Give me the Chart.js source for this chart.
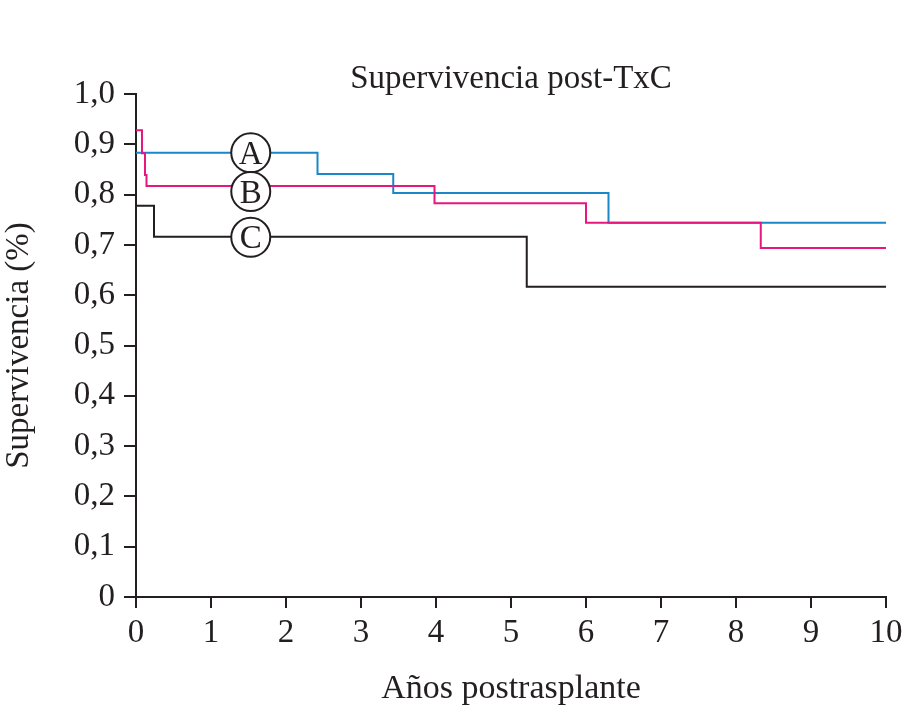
<!DOCTYPE html>
<html>
<head>
<meta charset="utf-8">
<script src="https://cdn.jsdelivr.net/npm/chart.js@4.4.1/dist/chart.umd.min.js"></script>
<style>
  html, body { margin: 0; padding: 0; background: #fff; }
  canvas { display: block; }
</style>
</head>
<body>
<canvas id="km" width="903" height="705"></canvas>
<script>
// Kaplan-Meier curves (years, survival fraction)
const timesA = [0, 2.42, 3.43, 6.3, 10];
const survA  = [0.883, 0.841, 0.803, 0.744, 0.744];

const timesB = [0, 0.08, 0.12, 0.14, 3.98, 6.0, 8.33, 10];
const survB  = [0.928, 0.882, 0.839, 0.817, 0.783, 0.744, 0.694, 0.694];

const timesC = [0, 0.24, 5.21, 10];
const survC  = [0.778, 0.716, 0.617, 0.617];

const xTicks = ['0', '1', '2', '3', '4', '5', '6', '7', '8', '9', '10'];
const yTicks = ['0', '0,1', '0,2', '0,3', '0,4', '0,5', '0,6', '0,7', '0,8', '0,9', '1,0'];

// circled group labels
const groupNames = ['A', 'B', 'C'];
const groupLabelX = 1.53;
const groupLabelY = [0.883, 0.806, 0.715];

const INK = '#231f20';
const SERIF = '"Liberation Serif", "Times New Roman", serif';

const toPoints = (xs, ys) => xs.map((x, i) => ({ x: x, y: ys[i] }));

// draws the circled letters over the lines
const circleLabels = {
  id: 'circleLabels',
  afterDatasetsDraw(chart) {
    const { ctx, scales } = chart;
    ctx.save();
    groupNames.forEach((name, i) => {
      const cx = scales.x.getPixelForValue(groupLabelX);
      const cy = scales.y.getPixelForValue(groupLabelY[i]);
      ctx.beginPath();
      ctx.arc(cx, cy, 19.5, 0, Math.PI * 2);
      ctx.fillStyle = '#fff';
      ctx.fill();
      ctx.lineWidth = 2;
      ctx.strokeStyle = INK;
      ctx.stroke();
      ctx.fillStyle = INK;
      ctx.font = '33px ' + SERIF;
      ctx.textAlign = 'center';
      ctx.textBaseline = 'alphabetic';
      ctx.fillText(name, cx, cy + 11);
    });
    ctx.restore();
  }
};

const lineStyle = (color) => ({
  borderColor: color,
  backgroundColor: color,
  borderWidth: 2,
  stepped: 'before',
  pointRadius: 0,
  fill: false
});

new Chart(document.getElementById('km'), {
  type: 'line',
  data: {
    datasets: [
      Object.assign({ label: 'A', data: toPoints(timesA, survA), order: 1 }, lineStyle('#1b87c9')),
      Object.assign({ label: 'B', data: toPoints(timesB, survB), order: 0 }, lineStyle('#e6177e')),
      Object.assign({ label: 'C', data: toPoints(timesC, survC), order: 2 }, lineStyle(INK))
    ]
  },
  options: {
    responsive: false,
    animation: false,
    layout: { padding: { top: 64, right: 17, left: 0, bottom: 0 } },
    plugins: {
      legend: { display: false },
      tooltip: { enabled: false },
      title: {
        display: true,
        fullSize: false,
        text: 'Supervivencia post-TxC',
        color: INK,
        font: { family: SERIF, size: 33, weight: 'normal', lineHeight: '30px' },
        padding: { top: 0, bottom: 0 }
      }
    },
    scales: {
      x: {
        type: 'linear',
        min: 0,
        max: 10,
        afterFit: (s) => { s.height = 108; s.paddingLeft = 0; s.paddingRight = 0; },
        afterBuildTicks: (s) => { s.ticks = xTicks.map((t, i) => ({ value: i })); },
        border: { display: true, color: INK, width: 2 },
        grid: { drawOnChartArea: false, drawTicks: true, tickLength: 11, color: INK, lineWidth: 2 },
        ticks: {
          color: INK,
          padding: 6,
          maxRotation: 0,
          font: { family: SERIF, size: 33 },
          callback: (v, i) => xTicks[i]
        },
        title: {
          display: true,
          text: 'Años postrasplante',
          color: INK,
          font: { family: SERIF, size: 34, lineHeight: '32px' },
          padding: 0
        }
      },
      y: {
        type: 'linear',
        min: 0,
        max: 1,
        afterFit: (s) => { s.width = 136; s.paddingTop = 0; s.paddingBottom = 0; },
        afterBuildTicks: (s) => { s.ticks = yTicks.map((t, i) => ({ value: i / 10 })); },
        border: { display: true, color: INK, width: 2 },
        grid: { drawOnChartArea: false, drawTicks: true, tickLength: 12, color: INK, lineWidth: 2 },
        ticks: {
          color: INK,
          padding: 9,
          font: { family: SERIF, size: 33 },
          callback: (v, i) => yTicks[i]
        },
        title: {
          display: true,
          text: 'Supervivencia (%)',
          color: INK,
          font: { family: SERIF, size: 33 },
          padding: 0
        }
      }
    }
  },
  plugins: [circleLabels]
});
</script>
</body>
</html>
